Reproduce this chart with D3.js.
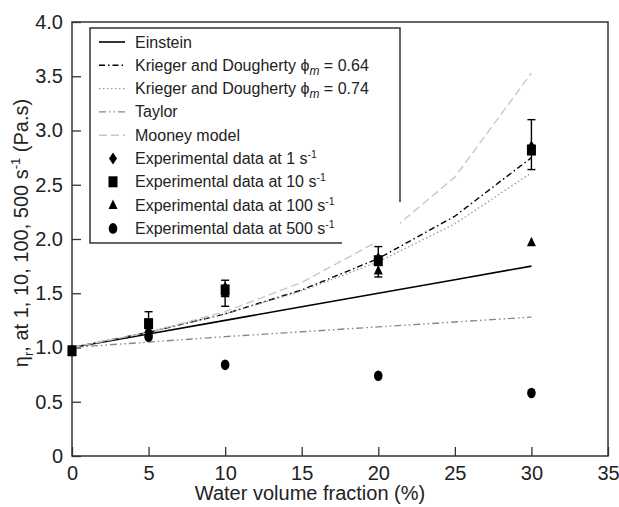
<!DOCTYPE html>
<html>
<head>
<meta charset="utf-8">
<script src="https://cdn.jsdelivr.net/npm/d3@7"></script>
<style>
  body { margin: 0; background: #fff; }
  svg { font-family: "Liberation Sans", Arial, sans-serif; }
</style>
</head>
<body>
<div id="chart"></div>
<script>
// water volume fraction (%) for model curves
const modelX = [0, 5, 10, 15, 20, 25, 30]
const einstein = [1.0, 1.125, 1.25, 1.375, 1.5, 1.625, 1.75]
const kd064 = [1.0, 1.14, 1.31, 1.53, 1.82, 2.21, 2.75]
const kd074 = [1.0, 1.14, 1.31, 1.52, 1.79, 2.14, 2.61]
const taylor = [1.0, 1.05, 1.10, 1.145, 1.19, 1.235, 1.28]
const mooney = [1.0, 1.14, 1.33, 1.60, 1.98, 2.57, 3.53]

// experimental data
const expX = [0, 5, 10, 20, 30]
const exp1 = [0.97, 1.12, 1.55, 1.82, 2.85]
const exp10 = [0.97, 1.22, 1.53, 1.80, 2.82]
const exp100 = [0.97, 1.17, 1.50, 1.71, 1.97]
const exp500 = [0.97, 1.10, 0.84, 0.74, 0.58]
const err10Lo = [0.97, 1.12, 1.38, 1.65, 2.64]
const err10Hi = [0.97, 1.33, 1.62, 1.93, 3.10]

const xTicks = [0, 5, 10, 15, 20, 25, 30, 35]
const yTicks = [0, 0.5, 1.0, 1.5, 2.0, 2.5, 3.0, 3.5, 4.0]

const W = 619, H = 507
const svg = d3.select("#chart").append("svg")
    .attr("width", W).attr("height", H)

const x = d3.scaleLinear().domain([0, 35]).range([72, 608])
const y = d3.scaleLinear().domain([0, 4]).range([456, 22])

const axisColor = "#333"

// axes
const xAxis = svg.append("g")
    .attr("transform", `translate(0,${y(0)})`)
    .call(d3.axisBottom(x).tickValues(xTicks).tickSize(-9).tickPadding(10))
const yAxis = svg.append("g")
    .attr("transform", `translate(${x(0)},0)`)
    .call(d3.axisLeft(y).tickValues(yTicks).tickSize(-9).tickPadding(9)
        .tickFormat(d => d === 0 ? "0" : d.toFixed(1)))

for (const g of [xAxis, yAxis]) {
    g.select(".domain").remove()
    g.selectAll(".tick line").attr("stroke", axisColor).attr("stroke-width", 1.3)
    g.selectAll(".tick text").attr("fill", "#222")
        .style("font-size", "20px").style("font-family", "Liberation Sans, Arial, sans-serif")
}

// frame
svg.append("rect")
    .attr("x", x(0)).attr("y", y(4))
    .attr("width", x(35) - x(0)).attr("height", y(0) - y(4))
    .attr("fill", "none").attr("stroke", axisColor).attr("stroke-width", 1.5)

// axis titles
svg.append("text")
    .attr("x", 310).attr("y", 500)
    .attr("text-anchor", "middle").attr("fill", "#222")
    .style("font-size", "20px")
    .text("Water volume fraction (%)")

const yTitle = svg.append("text")
    .attr("transform", "translate(28,233) rotate(-90)")
    .attr("text-anchor", "middle").attr("fill", "#222")
    .style("font-size", "20px")
yTitle.append("tspan").text("η")
yTitle.append("tspan").attr("dy", 5).style("font-size", "13px").text("r")
yTitle.append("tspan").attr("dy", -5).text(", at 1, 10, 100, 500 s")
yTitle.append("tspan").attr("dy", -8).style("font-size", "13px").text("-1")
yTitle.append("tspan").attr("dy", 8).text(" (Pa.s)")

// model curves
const models = [
    { name: "einstein", values: einstein, color: "#000", dash: null, w: 1.6 },
    { name: "kd064", values: kd064, color: "#000", dash: "6,3,1.5,3", w: 1.4 },
    { name: "kd074", values: kd074, color: "#999", dash: "1.5,2.5", w: 1.3 },
    { name: "taylor", values: taylor, color: "#888", dash: "7,3,1.5,3,1.5,3", w: 1.4 },
    { name: "mooney", values: mooney, color: "#c8c8c8", dash: "8,4", w: 1.4 }
]

const line = d3.line().x(d => x(d[0])).y(d => y(d[1]))

svg.selectAll(".model")
    .data(models)
    .join("path")
    .attr("class", "model")
    .attr("d", d => line(modelX.map((v, i) => [v, d.values[i]])))
    .attr("fill", "none")
    .attr("stroke", d => d.color)
    .attr("stroke-width", d => d.w)
    .attr("stroke-dasharray", d => d.dash)

// marker shapes
function drawMarker(g, type, cx, cy) {
    if (type === "diamond") {
        g.append("path").attr("d", `M${cx},${cy - 6}L${cx + 4},${cy}L${cx},${cy + 6}L${cx - 4},${cy}Z`).attr("fill", "#000")
    } else if (type === "square") {
        g.append("rect").attr("x", cx - 4.5).attr("y", cy - 5.5).attr("width", 9).attr("height", 11).attr("fill", "#000")
    } else if (type === "triangle") {
        g.append("path").attr("d", `M${cx},${cy - 5.5}L${cx + 4.5},${cy + 4}L${cx - 4.5},${cy + 4}Z`).attr("fill", "#000")
    } else {
        g.append("ellipse").attr("cx", cx).attr("cy", cy).attr("rx", 4.3).attr("ry", 5.3).attr("fill", "#000")
    }
}

// error bars for 10 s-1
const errG = svg.append("g").attr("stroke", "#000").attr("stroke-width", 1.4)
expX.forEach((v, i) => {
    if (err10Hi[i] - err10Lo[i] < 0.01) return
    const cx = x(v)
    errG.append("line").attr("x1", cx).attr("x2", cx).attr("y1", y(err10Lo[i])).attr("y2", y(err10Hi[i]))
    errG.append("line").attr("x1", cx - 4).attr("x2", cx + 4).attr("y1", y(err10Lo[i])).attr("y2", y(err10Lo[i]))
    errG.append("line").attr("x1", cx - 4).attr("x2", cx + 4).attr("y1", y(err10Hi[i])).attr("y2", y(err10Hi[i]))
})

const expSeries = [
    { type: "diamond", values: exp1 },
    { type: "square", values: exp10 },
    { type: "triangle", values: exp100 },
    { type: "circle", values: exp500 }
]
const markG = svg.append("g")
expSeries.forEach(s => {
    expX.forEach((v, i) => drawMarker(markG, s.type, x(v), y(s.values[i])))
})

// legend
const legend = svg.append("g")
legend.append("rect").attr("x", 90).attr("y", 28).attr("width", 310).attr("height", 215).attr("fill", "#fff")
legend.append("path")
    .attr("d", "M400,202V28H90V243H342")
    .attr("fill", "none").attr("stroke", axisColor).attr("stroke-width", 1.5)

const rowY = i => 42 + i * 23.3
const labelText = [
    ["Einstein"],
    ["Krieger and Dougherty ", "phi", " = 0.64"],
    ["Krieger and Dougherty ", "phi", " = 0.74"],
    ["Taylor"],
    ["Mooney model"]
]
models.forEach((m, i) => {
    legend.append("line")
        .attr("x1", 99).attr("x2", 125).attr("y1", rowY(i)).attr("y2", rowY(i))
        .attr("stroke", m.color).attr("stroke-width", m.w).attr("stroke-dasharray", m.dash)
    const t = legend.append("text").attr("x", 135).attr("y", rowY(i) + 5.5)
        .attr("fill", "#222").style("font-size", "16px")
    const parts = labelText[i]
    if (parts.length === 1) t.text(parts[0])
    else {
        t.append("tspan").text(parts[0])
        t.append("tspan").text("ϕ")
        t.append("tspan").attr("dy", 4).style("font-size", "12px").style("font-style", "italic").text("m")
        t.append("tspan").attr("dy", -4).text(parts[2])
    }
})
const expRates = ["1", "10", "100", "500"]
expSeries.forEach((s, j) => {
    const i = j + 5
    drawMarker(legend, s.type, 113, rowY(i))
    const t = legend.append("text").attr("x", 135).attr("y", rowY(i) + 5.5)
        .attr("fill", "#222").style("font-size", "16px")
    t.append("tspan").text(`Experimental data at ${expRates[j]} s`)
    t.append("tspan").attr("dy", -6).style("font-size", "10.5px").text("-1")
})
</script>
</body>
</html>
